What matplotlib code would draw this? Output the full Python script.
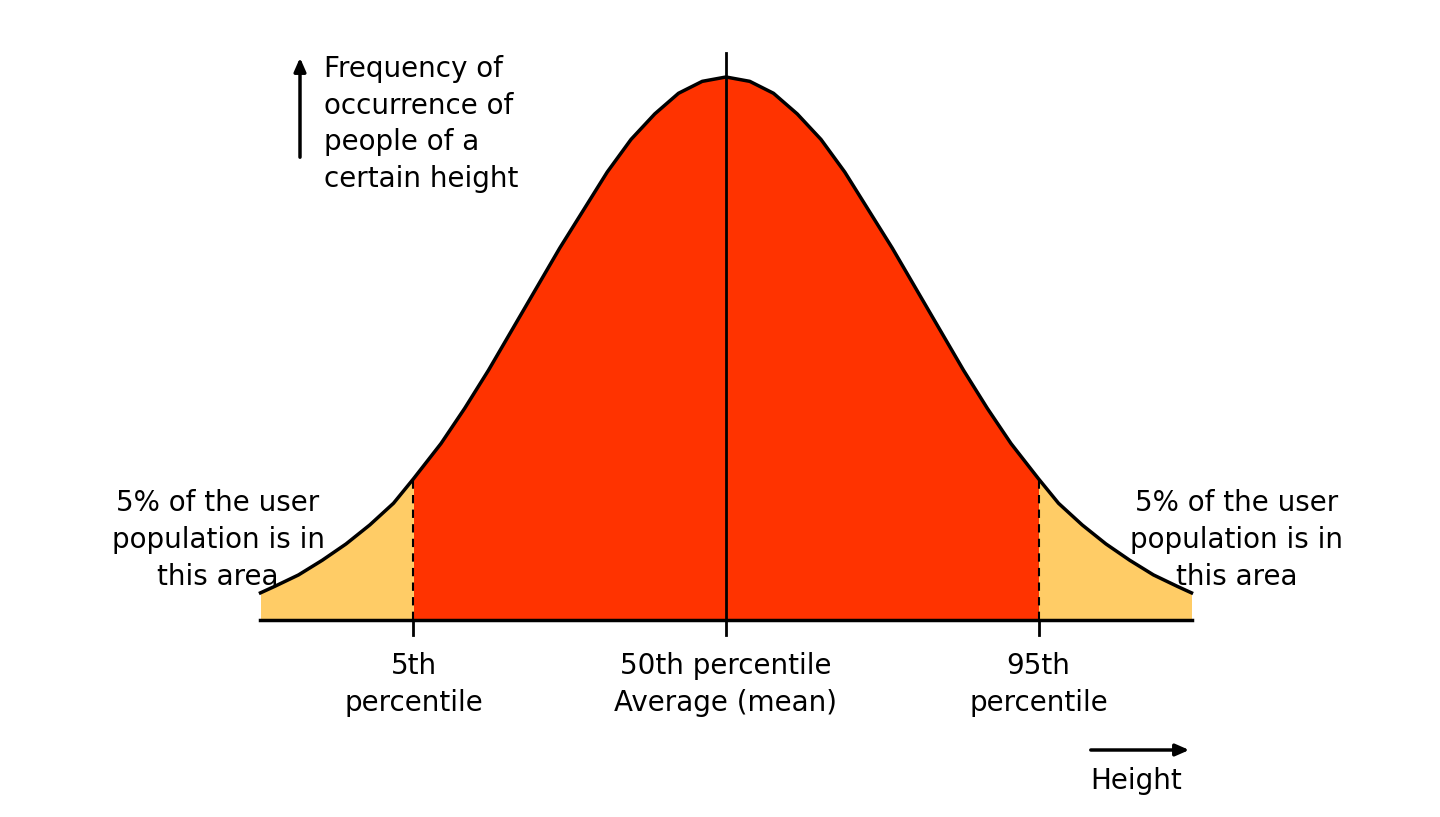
import matplotlib
matplotlib.use("Agg")
import matplotlib.pyplot as plt
import numpy as np

# curve heights (relative to peak), at z positions (right half; curve is symmetric)
z_half = [0.0,0.125,0.25,0.375,0.5,0.625,0.75,0.875,1.0,1.125,1.25,1.375,1.5,1.645,
          1.75,1.875,2.0,2.125,2.25,2.375,2.45]
h_half = [1.0,0.992,0.97,0.932,0.885,0.825,0.755,0.685,0.61,0.535,0.46,0.39,0.325,0.26,
          0.215,0.175,0.14,0.11,0.083,0.062,0.05]
pct_z = [-1.645, 0.0, 1.645]
pct_labels = ["5th\npercentile", "50th percentile\nAverage (mean)", "95th\npercentile"]

z = np.array([-v for v in z_half[:0:-1]] + z_half)
h = np.array(h_half[:0:-1] + h_half)
hp = dict(zip(z_half, h_half))

fig = plt.figure(figsize=(14.4, 8.17), dpi=100)
ax = fig.add_axes([0, 0, 1, 1])
S = 190.0; U = 543.0
ax.set_xlim(-726/S, (1440-726)/S)
ax.set_ylim(-(817-620)/U, 620/U)
ax.axis("off")

lo, hi = pct_z[0], pct_z[2]
ax.fill_between(z, 0, h, where=(z >= lo) & (z <= hi), color="#FF3300", lw=0)
ax.fill_between(z, 0, h, where=(z <= lo), color="#FFCC66", lw=0)
ax.fill_between(z, 0, h, where=(z >= hi), color="#FFCC66", lw=0)
ax.plot(z, h, color="black", lw=2.5, solid_joinstyle="round")
ax.plot([z[0], z[-1]], [0, 0], color="black", lw=2.5)
for p, lab in zip(pct_z, pct_labels):
    ax.plot([p, p], [-15/U, 0], color="black", lw=2)
    if p == 0:
        ax.plot([p, p], [0, 1.045], color="black", lw=2)
    else:
        ax.plot([p, p], [0, hp[abs(p)]], color="black", lw=1.5, ls=(0, (4, 3)))
    ax.text(p, -32/U, lab, ha="center", va="top", fontsize=20, linespacing=1.4)

for x0 in (-508/S, 511/S):
    ax.text(x0, 80/U, "5% of the user\npopulation is in\nthis area", ha="center",
            va="center", fontsize=20, linespacing=1.4)
ax.text(-402/S, 496/U, "Frequency of\noccurrence of\npeople of a\ncertain height",
        ha="left", va="center", fontsize=20, linespacing=1.4)
ax.annotate("", xy=(-426/S, 565/U), xytext=(-426/S, 460/U),
            arrowprops=dict(arrowstyle="-|>,head_width=0.35,head_length=0.8", color="black", lw=2.5))
ax.annotate("", xy=(466/S, -130/U), xytext=(362/S, -130/U),
            arrowprops=dict(arrowstyle="-|>,head_width=0.35,head_length=0.8", color="black", lw=2.5))
ax.text(410/S, -161/U, "Height", ha="center", va="center", fontsize=20)
fig.savefig("out.png", dpi=100)
